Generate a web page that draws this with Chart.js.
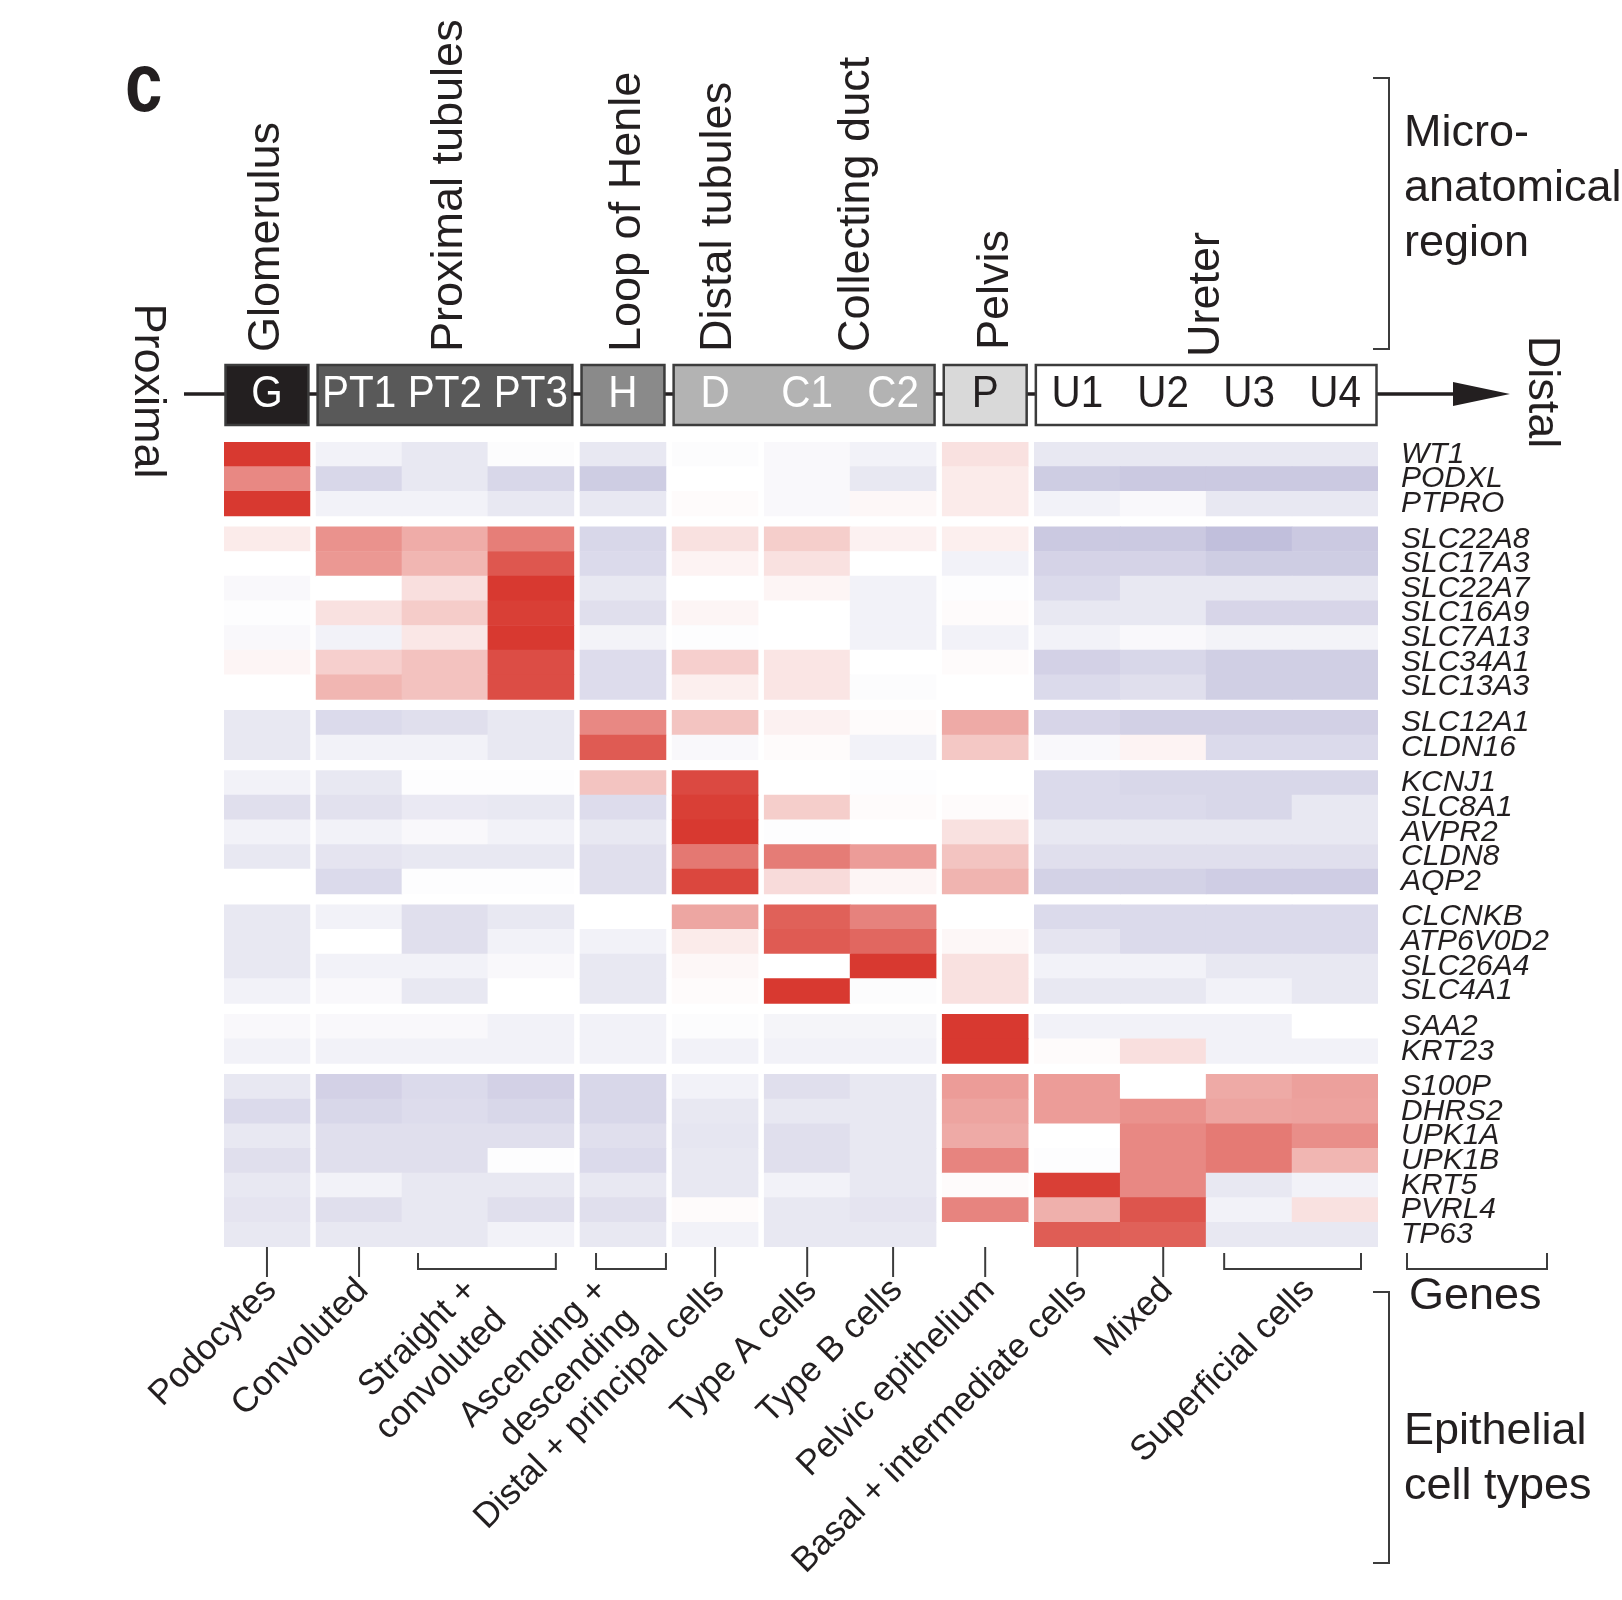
<!DOCTYPE html>
<html>
<head>
<meta charset="utf-8">
<script src="https://cdn.jsdelivr.net/npm/chart.js@4.4.1/dist/chart.umd.min.js"></script>
<style>
  html, body { margin: 0; padding: 0; background: #ffffff; }
  #wrap { width: 1622px; height: 1600px; position: relative; }
  canvas { display: block; }
</style>
</head>
<body>
<div id="wrap"><canvas id="c" width="1622" height="1600" style="width:1622px;height:1600px"></canvas></div>
<script>
// ---------------- DATA ----------------
const columns = ['G', 'PT1', 'PT2', 'PT3', 'H', 'D', 'C1', 'C2', 'P', 'U1', 'U2', 'U3', 'U4'];
const columnGroup = [0, 1, 1, 1, 2, 3, 4, 4, 5, 6, 6, 6, 6];

const regions = ['Glomerulus', 'Proximal tubules', 'Loop of Henle', 'Distal tubules', 'Collecting duct', 'Pelvis', 'Ureter'];
const regionSpans = [[0, 0], [1, 3], [4, 4], [5, 5], [6, 7], [8, 8], [9, 12]];

const boxSpans = [[0, 0], [1, 3], [4, 4], [5, 7], [8, 8], [9, 12]];

const genes = ['WT1', 'PODXL', 'PTPRO',
  'SLC22A8', 'SLC17A3', 'SLC22A7', 'SLC16A9', 'SLC7A13', 'SLC34A1', 'SLC13A3',
  'SLC12A1', 'CLDN16',
  'KCNJ1', 'SLC8A1', 'AVPR2', 'CLDN8', 'AQP2',
  'CLCNKB', 'ATP6V0D2', 'SLC26A4', 'SLC4A1',
  'SAA2', 'KRT23',
  'S100P', 'DHRS2', 'UPK1A', 'UPK1B', 'KRT5', 'PVRL4', 'TP63'];
const geneGroup = [0, 0, 0, 1, 1, 1, 1, 1, 1, 1, 2, 2, 3, 3, 3, 3, 3, 4, 4, 4, 4, 5, 5, 6, 6, 6, 6, 6, 6, 6];

// values: negative = blue (low), positive = red (high); columns G..U4
const glomerularValues = [
  [1.0, -0.2, -0.35, -0.05, -0.35, -0.05, -0.1, -0.2, 0.15, -0.35, -0.35, -0.35, -0.35],
  [0.6, -0.6, -0.35, -0.6, -0.75, 0, -0.1, -0.35, 0.1, -0.75, -0.8, -0.8, -0.8],
  [1.0, -0.2, -0.2, -0.35, -0.35, 0.02, -0.1, 0.04, 0.1, -0.2, -0.1, -0.35, -0.35]
];
const proximalValues = [
  [0.1, 0.55, 0.42, 0.65, -0.6, 0.15, 0.25, 0.07, 0.08, -0.8, -0.8, -0.95, -0.8],
  [0, 0.52, 0.37, 0.85, -0.55, 0.06, 0.15, 0, -0.2, -0.65, -0.65, -0.75, -0.75],
  [-0.1, 0, 0.16, 1.0, -0.35, 0, 0.05, -0.2, -0.03, -0.55, -0.35, -0.35, -0.35],
  [-0.03, 0.15, 0.26, 0.97, -0.48, 0.05, 0, -0.2, 0.02, -0.35, -0.35, -0.62, -0.62],
  [-0.1, -0.2, 0.12, 1.0, -0.18, -0.03, 0, -0.2, -0.2, -0.2, -0.1, -0.18, -0.18],
  [0.05, 0.24, 0.31, 0.9, -0.52, 0.24, 0.13, 0, 0.02, -0.68, -0.6, -0.72, -0.72],
  [0, 0.37, 0.31, 0.9, -0.52, 0.08, 0.13, -0.05, 0, -0.55, -0.48, -0.72, -0.72]
];
const henleValues = [
  [-0.35, -0.55, -0.48, -0.35, 0.6, 0.3, 0.07, 0.02, 0.43, -0.62, -0.7, -0.7, -0.7],
  [-0.35, -0.2, -0.2, -0.35, 0.83, -0.1, 0.02, -0.2, 0.28, -0.1, 0.06, -0.55, -0.55]
];
const distalValues = [
  [-0.2, -0.35, -0.03, -0.03, 0.3, 0.92, 0, -0.03, 0, -0.55, -0.6, -0.6, -0.6],
  [-0.48, -0.45, -0.33, -0.35, -0.52, 0.97, 0.25, 0.02, 0.02, -0.55, -0.55, -0.6, -0.35],
  [-0.2, -0.2, -0.1, -0.2, -0.35, 1.0, -0.03, 0, 0.15, -0.35, -0.35, -0.35, -0.35],
  [-0.35, -0.4, -0.35, -0.35, -0.48, 0.68, 0.66, 0.5, 0.3, -0.48, -0.48, -0.48, -0.48],
  [0, -0.55, -0.03, -0.03, -0.48, 0.93, 0.18, 0.05, 0.38, -0.67, -0.67, -0.74, -0.74]
];
const collectingValues = [
  [-0.35, -0.2, -0.48, -0.35, 0, 0.45, 0.8, 0.63, 0, -0.55, -0.55, -0.55, -0.55],
  [-0.35, 0, -0.48, -0.2, -0.2, 0.1, 0.83, 0.77, 0.04, -0.4, -0.55, -0.55, -0.55],
  [-0.35, -0.2, -0.2, -0.1, -0.35, 0.04, 0, 1.0, 0.15, -0.2, -0.2, -0.35, -0.35],
  [-0.2, -0.1, -0.35, 0, -0.35, 0.02, 1.0, -0.05, 0.15, -0.35, -0.35, -0.2, -0.35]
];
const pelvisValues = [
  [-0.1, -0.1, -0.1, -0.2, -0.2, -0.05, -0.15, -0.15, 1.0, -0.2, -0.2, -0.2, 0],
  [-0.2, -0.2, -0.2, -0.2, -0.2, -0.2, -0.2, -0.2, 1.0, 0.02, 0.16, -0.2, -0.2]
];
const ureterValues = [
  [-0.35, -0.68, -0.55, -0.68, -0.6, -0.2, -0.48, -0.35, 0.5, 0.5, 0, 0.43, 0.48],
  [-0.55, -0.6, -0.52, -0.6, -0.6, -0.35, -0.35, -0.35, 0.46, 0.5, 0.55, 0.46, 0.47],
  [-0.35, -0.48, -0.48, -0.48, -0.48, -0.38, -0.48, -0.35, 0.43, 0, 0.6, 0.67, 0.57],
  [-0.48, -0.48, -0.48, -0.03, -0.55, -0.35, -0.48, -0.35, 0.62, -0.03, 0.6, 0.67, 0.37],
  [-0.35, -0.2, -0.35, -0.35, -0.35, -0.35, -0.2, -0.35, 0.02, 0.97, 0.6, -0.35, -0.2],
  [-0.4, -0.48, -0.35, -0.48, -0.48, 0.02, -0.35, -0.4, 0.62, 0.4, 0.86, -0.2, 0.15],
  [-0.35, -0.35, -0.35, -0.2, -0.35, -0.2, -0.35, -0.35, 0, 0.82, 0.8, -0.35, -0.35]
];

const cellTypes = ['Podocytes', 'Convoluted', ['Straight +', 'convoluted'], ['Ascending +', 'descending'],
  'Distal + principal cells', 'Type A cells', 'Type B cells', 'Pelvic epithelium',
  'Basal + intermediate cells', 'Mixed', 'Superficial cells'];
const cellTypeSpans = [[0, 0], [1, 1], [2, 3], [4, 4], [5, 5], [6, 6], [7, 7], [8, 8], [9, 9], [10, 10], [11, 12]];
const cellTypeMarker = ['tick', 'tick', 'bracket', 'bracket', 'tick', 'tick', 'tick', 'tick', 'tick', 'tick', 'bracket'];

// ---------------- LAYOUT / STYLE ----------------
const COL_GAP = 0.072;   // gap between column groups (in column widths)
const ROW_GAP = 0.443;   // gap between gene groups (in row heights)
const INK = '#231f20';
const FONT = "'Liberation Sans', Arial, Helvetica, sans-serif";
const RED = [216, 57, 48];
const BLUE = [190, 188, 218];

const values = [...glomerularValues, ...proximalValues, ...henleValues, ...distalValues,
  ...collectingValues, ...pelvisValues, ...ureterValues];

function colLeft(j) { return j + columnGroup[j] * COL_GAP; }
function rowTop(i) { return i + geneGroup[i] * ROW_GAP; }
const X_MAX = columns.length + Math.max(...columnGroup) * COL_GAP;
const Y_MAX = genes.length + Math.max(...geneGroup) * ROW_GAP;

function heatColor(v) {
  const t = Math.min(1, Math.abs(v));
  const end = v >= 0 ? RED : BLUE;
  const c = end.map(e => Math.round(255 + (e - 255) * t));
  return `rgb(${c[0]},${c[1]},${c[2]})`;
}

const cells = [];
genes.forEach((g, i) => {
  columns.forEach((c, j) => {
    cells.push({ x: colLeft(j) + 0.5, y: [rowTop(i), rowTop(i) + 1], v: values[i][j] });
  });
});

// label anchor nudges for bracketed cell-type labels (in column units)
const bracketLabelShift = { 2: -0.24, 3: -0.29, 10: 0.15 };
function cellTypeTickValue(k) {
  const s = cellTypeSpans[k];
  const center = (colLeft(s[0]) + colLeft(s[1]) + 1) / 2;
  return center + (bracketLabelShift[k] || 0);
}

const decorPlugin = {
  id: 'decor',
  afterDraw(chart) {
    const ctx = chart.ctx;
    const xs = chart.scales.x;
    const ca = chart.chartArea;
    const px = u => xs.getPixelForValue(u);
    ctx.save();
    ctx.fillStyle = INK;
    ctx.strokeStyle = INK;

    // panel letter
    ctx.save();
    ctx.translate(125, 111);
    ctx.scale(0.8, 1);
    ctx.font = 'bold 84px ' + FONT;
    ctx.textBaseline = 'alphabetic';
    ctx.fillText('c', 0, 0);
    ctx.restore();

    // proximal -> distal line with arrow
    const barY = 394;
    ctx.lineWidth = 3.5;
    ctx.beginPath(); ctx.moveTo(184, barY); ctx.lineTo(1456, barY); ctx.stroke();
    ctx.beginPath();
    ctx.moveTo(1453, barY - 12); ctx.lineTo(1510, barY); ctx.lineTo(1453, barY + 12);
    ctx.closePath(); ctx.fill();

    // region boxes
    const boxFill = ['#231f20', '#595959', '#8a8a8a', '#b3b3b3', '#d9d9d9', '#ffffff'];
    const boxText = ['#ffffff', '#ffffff', '#ffffff', '#ffffff', INK, INK];
    boxSpans.forEach((s, k) => {
      const x0 = px(colLeft(s[0])) + 1.5, x1 = px(colLeft(s[1]) + 1) - 1.5;
      ctx.fillStyle = boxFill[k];
      ctx.fillRect(x0, 365, x1 - x0, 60);
      ctx.lineWidth = 2.5;
      ctx.strokeStyle = '#3c3c3c';
      ctx.strokeRect(x0, 365, x1 - x0, 60);
      for (let j = s[0]; j <= s[1]; j++) {
        ctx.save();
        ctx.translate(px(colLeft(j) + 0.5), barY + 1);
        ctx.scale(0.92, 1);
        ctx.fillStyle = boxText[k];
        ctx.font = '44px ' + FONT;
        ctx.textAlign = 'center';
        ctx.textBaseline = 'middle';
        ctx.fillText(columns[j], 0, 0);
        ctx.restore();
      }
    });

    // region names (vertical)
    const regionNudge = [0, 5, 5, 4, 6, 10, 0];
    const regionBottom = [352, 352, 352, 352, 352, 350, 357];
    ctx.fillStyle = INK;
    ctx.font = '45px ' + FONT;
    regions.forEach((r, k) => {
      const s = regionSpans[k];
      const cx = (px(colLeft(s[0])) + px(colLeft(s[1]) + 1)) / 2 + regionNudge[k];
      ctx.save();
      ctx.translate(cx, regionBottom[k]);
      ctx.rotate(-Math.PI / 2);
      ctx.textAlign = 'left';
      ctx.textBaseline = 'middle';
      ctx.fillText(r, 0, 0);
      ctx.restore();
    });

    // Proximal / Distal
    [['Proximal', 147, 391], ['Distal', 1541, 392]].forEach(([t, x, y]) => {
      ctx.save();
      ctx.translate(x, y);
      ctx.rotate(Math.PI / 2);
      ctx.textAlign = 'center';
      ctx.textBaseline = 'middle';
      ctx.fillText(t, 0, 0);
      ctx.restore();
    });

    // right-side brackets and titles
    ctx.lineWidth = 2;
    ctx.beginPath();
    ctx.moveTo(1373, 78); ctx.lineTo(1389, 78); ctx.lineTo(1389, 349); ctx.lineTo(1373, 349);
    ctx.stroke();
    ctx.beginPath();
    ctx.moveTo(1373, 1292); ctx.lineTo(1389, 1292); ctx.lineTo(1389, 1563); ctx.lineTo(1373, 1563);
    ctx.stroke();
    ctx.textAlign = 'left';
    ctx.textBaseline = 'alphabetic';
    ctx.fillText('Micro-', 1404, 146);
    ctx.fillText('anatomical', 1404, 201);
    ctx.fillText('region', 1404, 256);
    ctx.fillText('Genes', 1409, 1309);
    ctx.fillText('Epithelial', 1404, 1444);
    ctx.fillText('cell types', 1404, 1499);

    // genes bracket
    ctx.beginPath();
    ctx.moveTo(1407, 1253); ctx.lineTo(1407, 1269); ctx.lineTo(1547, 1269); ctx.lineTo(1547, 1253);
    ctx.stroke();

    // cell-type ticks and brackets under the heatmap
    const inset = { 2: [16, 18], 3: [16, 0], 10: [18, 17] };
    cellTypeSpans.forEach((s, k) => {
      ctx.beginPath();
      if (cellTypeMarker[k] === 'tick') {
        const x = px(colLeft(s[0]) + 0.5);
        ctx.moveTo(x, ca.bottom); ctx.lineTo(x, ca.bottom + 30);
      } else {
        const ins = inset[k] || [16, 16];
        const x0 = px(colLeft(s[0])) + ins[0];
        const x1 = px(colLeft(s[1]) + 1) - ins[1];
        ctx.moveTo(x0, ca.bottom + 6); ctx.lineTo(x0, ca.bottom + 22);
        ctx.lineTo(x1, ca.bottom + 22); ctx.lineTo(x1, ca.bottom + 6);
      }
      ctx.stroke();
    });
    ctx.restore();
  }
};

new Chart(document.getElementById('c'), {
  type: 'bar',
  data: {
    datasets: [{
      data: cells,
      backgroundColor: ctx => heatColor(ctx.raw ? ctx.raw.v : 0),
      borderWidth: 0,
      barPercentage: 1,
      categoryPercentage: 1
    }]
  },
  options: {
    responsive: false,
    animation: false,
    devicePixelRatio: 1,
    layout: { padding: { left: 224, top: 442, right: 0, bottom: 0 } },
    plugins: { legend: { display: false }, tooltip: { enabled: false } },
    scales: {
      x: {
        type: 'linear',
        position: 'bottom',
        min: 0,
        max: X_MAX,
        offset: false,
        bounds: 'data',
        grid: { display: false, drawTicks: false },
        border: { display: false },
        afterBuildTicks: s => { s.ticks = cellTypes.map((c, k) => ({ value: cellTypeTickValue(k) })); },
        afterFit: s => { s.height = 353; },
        ticks: {
          autoSkip: false,
          minRotation: 45,
          maxRotation: 45,
          padding: 23,
          labelOffset: 4,
          color: INK,
          font: { family: FONT, size: 35 },
          callback: (v, i) => cellTypes[i]
        }
      },
      y: {
        type: 'linear',
        position: 'right',
        reverse: true,
        min: 0,
        max: Y_MAX,
        offset: false,
        bounds: 'data',
        grid: { display: false, drawTicks: false },
        border: { display: false },
        afterBuildTicks: s => { s.ticks = genes.map((g, i) => ({ value: rowTop(i) + 0.5 })); },
        afterFit: s => { s.width = 244; },
        ticks: {
          autoSkip: false,
          padding: 23,
          color: INK,
          font: { family: FONT, size: 30, style: 'italic' },
          callback: (v, i) => genes[i]
        }
      }
    }
  },
  plugins: [decorPlugin]
});
</script>
</body>
</html>
